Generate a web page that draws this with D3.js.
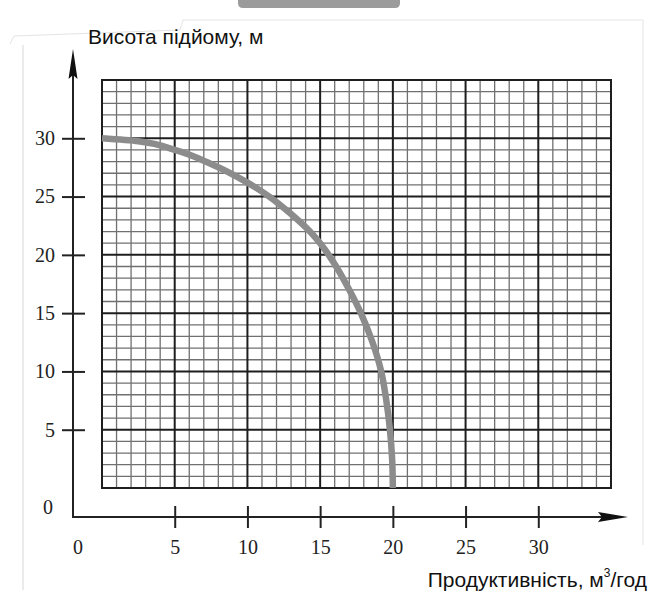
<!DOCTYPE html>
<html>
<head>
<meta charset="utf-8">
<script src="https://cdn.jsdelivr.net/npm/d3@7"></script>
<style>
  body { margin: 0; background: #fff; }
  svg { display: block; }
</style>
</head>
<body>
<div id="chart"></div>
<script>
// pump curve
var flowValues = [0, 2.5, 5, 7.5, 10, 11.5, 13.0, 14.3, 15.3, 16.1, 17.0, 17.8, 18.6, 19.2, 19.55, 19.8, 19.95, 20];
var headValues = [30, 29.75, 29.0, 27.8, 26.2, 25, 23.5, 22.0, 20.5, 19, 17, 15, 12.5, 10, 7.5, 5, 2.5, 0];

var xTicks = [5, 10, 15, 20, 25, 30];
var yTicks = [5, 10, 15, 20, 25, 30];
var gridMax = 35;

var yTitle = "Висота підйому, м";
var xTitle = "Продуктивність, м";
var xTitleSup = "3";
var xTitleEnd = "/год";

var width = 665, height = 597;

var svg = d3.select("#chart")
  .append("svg")
    .attr("width", width)
    .attr("height", height);

// scan edges / page decoration
svg.append("path")
  .attr("d", "M238,0 L400,0 L400,3 Q400,8 395,8 L243,8 Q238,8 238,3 Z")
  .attr("fill", "#9b9b9b");
svg.append("path")
  .attr("d", "M10,44 L14,36 L180,30 L183,20 L643,20 L643,545")
  .attr("fill", "none").attr("stroke", "#e4e4e4").attr("stroke-width", 1);
svg.append("line")
  .attr("x1", 23).attr("x2", 23).attr("y1", 45).attr("y2", 590)
  .attr("stroke", "#d8d8d8").attr("stroke-width", 1);

var x = d3.scaleLinear().domain([0, gridMax]).range([102, 611]);
var y = d3.scaleLinear().domain([0, gridMax]).range([488, 80]);

// grid (1 unit minor, 5 unit major)
var grid = svg.append("g");
var steps = d3.range(0, gridMax + 1);

grid.selectAll(".vminor")
  .data(steps.filter(function(d) { return d % 5 != 0; }))
  .enter().append("line")
    .attr("x1", function(d) { return x(d); })
    .attr("x2", function(d) { return x(d); })
    .attr("y1", y(0)).attr("y2", y(gridMax))
    .attr("stroke", "#707070").attr("stroke-width", 1.3);

grid.selectAll(".hminor")
  .data(steps.filter(function(d) { return d % 5 != 0; }))
  .enter().append("line")
    .attr("y1", function(d) { return y(d); })
    .attr("y2", function(d) { return y(d); })
    .attr("x1", x(0)).attr("x2", x(gridMax))
    .attr("stroke", "#707070").attr("stroke-width", 1.3);

grid.selectAll(".vmajor")
  .data(steps.filter(function(d) { return d % 5 == 0; }))
  .enter().append("line")
    .attr("x1", function(d) { return x(d); })
    .attr("x2", function(d) { return x(d); })
    .attr("y1", y(0) + 1).attr("y2", y(gridMax) - 1)
    .attr("stroke", "#1e1e1e").attr("stroke-width", 2);

grid.selectAll(".hmajor")
  .data(steps.filter(function(d) { return d % 5 == 0; }))
  .enter().append("line")
    .attr("y1", function(d) { return y(d); })
    .attr("y2", function(d) { return y(d); })
    .attr("x1", x(0) - 1).attr("x2", x(gridMax) + 1)
    .attr("stroke", "#1e1e1e").attr("stroke-width", 2);

// curve: x is a monotone function of head, so interpolate along y
var pts = flowValues.map(function(d, i) { return [d, headValues[i]]; })
  .sort(function(a, b) { return a[1] - b[1]; });
var line = d3.line()
  .x(function(d) { return x(d[0]); })
  .y(function(d) { return y(d[1]); })
  .curve(d3.curveMonotoneY);

svg.append("path")
  .datum(pts)
  .attr("d", line)
  .attr("fill", "none")
  .attr("stroke", "#8c8c8c")
  .attr("stroke-width", 6.5);

// axes, offset from the grid
var axisX0 = 73, axisY0 = 517;
var serif = "'Liberation Serif', 'DejaVu Serif', serif";

var xAxis = svg.append("g")
  .attr("transform", "translate(0," + axisY0 + ")")
  .call(d3.axisBottom(x).tickValues(xTicks).tickSizeOuter(0).tickSizeInner(11).tickPadding(8));
xAxis.select(".domain").remove();
xAxis.selectAll(".tick line").attr("y1", -11).attr("y2", 11)
  .attr("stroke", "#222").attr("stroke-width", 2);
xAxis.selectAll(".tick text")
  .attr("y", 23).attr("dy", "0.71em")
  .attr("font-family", serif).attr("font-size", 20).attr("fill", "#222");

var yAxis = svg.append("g")
  .attr("transform", "translate(" + axisX0 + ",0)")
  .call(d3.axisLeft(y).tickValues(yTicks).tickSizeOuter(0).tickSizeInner(11).tickPadding(8));
yAxis.select(".domain").remove();
yAxis.selectAll(".tick line").attr("x1", -11).attr("x2", 12)
  .attr("stroke", "#222").attr("stroke-width", 2);
yAxis.selectAll(".tick text")
  .attr("x", -18)
  .attr("font-family", serif).attr("font-size", 20).attr("fill", "#222");

// zero labels
svg.append("text").attr("x", 78).attr("y", axisY0 + 23).attr("dy", "0.71em")
  .attr("text-anchor", "middle")
  .attr("font-family", serif).attr("font-size", 20).attr("fill", "#222")
  .text("0");
svg.append("text").attr("x", axisX0 - 25).attr("y", 508).attr("dy", "0.32em")
  .attr("text-anchor", "middle")
  .attr("font-family", serif).attr("font-size", 20).attr("fill", "#222")
  .text("0");

// axis lines with arrows
svg.append("line")
  .attr("x1", axisX0).attr("x2", axisX0).attr("y1", axisY0 + 1).attr("y2", 70)
  .attr("stroke", "#222").attr("stroke-width", 2);
svg.append("line")
  .attr("x1", axisX0 - 1).attr("x2", 605).attr("y1", axisY0).attr("y2", axisY0)
  .attr("stroke", "#222").attr("stroke-width", 2);
svg.append("path")
  .attr("d", "M" + axisX0 + ",49 L" + (axisX0 + 4.5) + ",79 L" + axisX0 + ",75 L" + (axisX0 - 4.5) + ",79 Z")
  .attr("fill", "#111");
svg.append("path")
  .attr("d", "M628," + axisY0 + " L598," + (axisY0 - 5) + " L602," + axisY0 + " L598," + (axisY0 + 5) + " Z")
  .attr("fill", "#111");

// titles
var sans = "'Liberation Sans', Arial, sans-serif";
svg.append("text")
  .attr("x", 88).attr("y", 44)
  .attr("font-family", sans).attr("font-size", 21).attr("fill", "#111")
  .text(yTitle);

var xt = svg.append("text")
  .attr("x", 647).attr("y", 587)
  .attr("text-anchor", "end")
  .attr("font-family", sans).attr("font-size", 21).attr("fill", "#111");
xt.append("tspan").text(xTitle);
xt.append("tspan").attr("dy", -10).attr("font-size", 12).text(xTitleSup);
xt.append("tspan").attr("dy", 10).text(xTitleEnd);
</script>
</body>
</html>
